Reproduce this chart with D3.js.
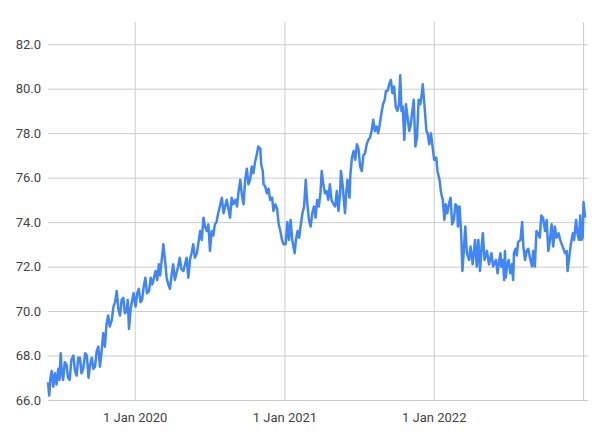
<html>
<script src="https://d3js.org/d3.v7.min.js"></script>
<style>
    body { margin: 0; background: #fff; }
    .grid line { stroke: #cccccc; stroke-width: 1px; }
    .tick text { font-family: Roboto, sans-serif; font-size: 13px; fill: #444; }
    .series { fill: none; stroke: #4285f4; stroke-width: 2.5px; stroke-linejoin: round; }
</style>
<svg width=600 height=439></svg>
<script>
    // daily-ish readings
    let dates = [
        '2019-06-03','2019-06-06','2019-06-09','2019-06-12','2019-06-16','2019-06-20','2019-06-24','2019-06-28',
        '2019-07-01','2019-07-04','2019-07-07','2019-07-10','2019-07-14','2019-07-18','2019-07-22','2019-07-26','2019-07-30',
        '2019-08-04','2019-08-08','2019-08-12','2019-08-16','2019-08-20','2019-08-24','2019-08-28',
        '2019-09-02','2019-09-06','2019-09-10','2019-09-14','2019-09-18','2019-09-22','2019-09-26','2019-09-30',
        '2019-10-04','2019-10-08','2019-10-12','2019-10-16','2019-10-20','2019-10-24','2019-10-28',
        '2019-11-01','2019-11-06','2019-11-10','2019-11-14','2019-11-18','2019-11-22','2019-11-26','2019-11-30',
        '2019-12-04','2019-12-08','2019-12-12','2019-12-15','2019-12-18','2019-12-22','2019-12-25','2019-12-29',
        '2020-01-03','2020-01-07','2020-01-11','2020-01-15','2020-01-19','2020-01-23','2020-01-27','2020-01-31',
        '2020-02-05','2020-02-09','2020-02-13','2020-02-17','2020-02-21','2020-02-25','2020-02-29',
        '2020-03-03','2020-03-07','2020-03-11','2020-03-15','2020-03-19','2020-03-23','2020-03-27','2020-03-31',
        '2020-04-04','2020-04-08','2020-04-12','2020-04-16','2020-04-20','2020-04-24','2020-04-29',
        '2020-05-03','2020-05-07','2020-05-11','2020-05-15','2020-05-19','2020-05-23','2020-05-27',
        '2020-06-01','2020-06-05','2020-06-09','2020-06-13','2020-06-17','2020-06-21','2020-06-25','2020-06-29',
        '2020-07-03','2020-07-07','2020-07-11','2020-07-15','2020-07-19','2020-07-23','2020-07-27',
        '2020-08-01','2020-08-05','2020-08-09','2020-08-13','2020-08-17','2020-08-21','2020-08-25','2020-08-29',
        '2020-09-03','2020-09-07','2020-09-11','2020-09-15','2020-09-19','2020-09-23','2020-09-27',
        '2020-10-01','2020-10-05','2020-10-09','2020-10-13','2020-10-17','2020-10-21','2020-10-25','2020-10-29',
        '2020-11-03','2020-11-05','2020-11-09','2020-11-11','2020-11-15','2020-11-19','2020-11-23','2020-11-27',
        '2020-12-02','2020-12-05','2020-12-10','2020-12-14','2020-12-18','2020-12-22','2020-12-26','2020-12-30',
        '2021-01-04','2021-01-08','2021-01-12','2021-01-16','2021-01-20','2021-01-24','2021-01-26','2021-01-29',
        '2021-02-02','2021-02-06','2021-02-10','2021-02-14','2021-02-18','2021-02-22','2021-02-26',
        '2021-03-02','2021-03-06','2021-03-10','2021-03-14','2021-03-18','2021-03-22','2021-03-26','2021-03-30',
        '2021-04-02','2021-04-06','2021-04-10','2021-04-14','2021-04-18','2021-04-22','2021-04-26',
        '2021-05-01','2021-05-05','2021-05-09','2021-05-13','2021-05-17','2021-05-19','2021-05-23','2021-05-29',
        '2021-06-01','2021-06-04','2021-06-09','2021-06-11','2021-06-15','2021-06-19','2021-06-23','2021-06-27',
        '2021-07-01','2021-07-05','2021-07-09','2021-07-13','2021-07-17','2021-07-21','2021-07-25','2021-07-29',
        '2021-08-02','2021-08-06','2021-08-10','2021-08-14','2021-08-18','2021-08-22','2021-08-26','2021-08-30',
        '2021-09-03','2021-09-06','2021-09-10','2021-09-14','2021-09-18','2021-09-22','2021-09-26','2021-09-30',
        '2021-10-04','2021-10-08','2021-10-11','2021-10-14','2021-10-17','2021-10-21','2021-10-25','2021-10-29',
        '2021-11-02','2021-11-05','2021-11-09','2021-11-13','2021-11-17','2021-11-21','2021-11-25','2021-11-29',
        '2021-12-03','2021-12-05','2021-12-09','2021-12-14','2021-12-17','2021-12-21','2021-12-25','2021-12-29',
        '2022-01-02','2022-01-07','2022-01-10','2022-01-15','2022-01-19','2022-01-23','2022-01-27','2022-01-30',
        '2022-02-03','2022-02-07','2022-02-11','2022-02-15','2022-02-19','2022-02-23','2022-02-27',
        '2022-03-01','2022-03-05','2022-03-09','2022-03-12','2022-03-15','2022-03-19','2022-03-23','2022-03-28',
        '2022-04-01','2022-04-06','2022-04-12','2022-04-16','2022-04-20','2022-04-24','2022-04-28',
        '2022-05-01','2022-05-05','2022-05-11','2022-05-16','2022-05-22','2022-05-26',
        '2022-06-02','2022-06-06','2022-06-10','2022-06-13','2022-06-15','2022-06-19','2022-06-22','2022-06-24','2022-06-26','2022-06-29',
        '2022-07-03','2022-07-07','2022-07-11','2022-07-14','2022-07-16','2022-07-20','2022-07-23','2022-07-26',
        '2022-08-01','2022-08-05','2022-08-08','2022-08-12','2022-08-16','2022-08-20','2022-08-24','2022-08-29',
        '2022-09-01','2022-09-05','2022-09-09','2022-09-13','2022-09-17','2022-09-21','2022-09-25','2022-09-30',
        '2022-10-04','2022-10-08','2022-10-12','2022-10-16','2022-10-20','2022-10-24','2022-10-28',
        '2022-11-02','2022-11-06','2022-11-10','2022-11-14','2022-11-18','2022-11-22','2022-11-24','2022-11-28',
        '2022-12-02','2022-12-07','2022-12-10','2022-12-15','2022-12-18','2022-12-22','2022-12-25','2022-12-28','2022-12-31',
        '2023-01-02','2023-01-06'
    ];

    let values = [
        66.8,66.2,67.0,67.3,66.6,67.2,66.7,67.4,
        66.9,68.1,67.2,66.9,67.7,67.6,67.0,66.9,67.8,
        68.0,67.3,67.1,67.9,67.9,67.2,67.4,
        68.1,68.0,67.0,67.6,67.9,67.4,67.5,68.2,
        68.4,67.5,68.2,69.0,68.4,69.4,69.8,
        69.3,69.6,70.2,70.4,70.9,70.1,69.8,70.5,
        70.6,69.9,70.0,70.5,69.2,70.1,70.4,70.8,
        70.2,70.8,71.0,70.4,70.5,71.1,71.5,70.8,
        70.9,71.5,71.2,71.5,71.8,71.4,72.1,
        71.6,72.3,73.0,72.3,71.5,71.2,71.0,71.6,
        72.1,71.4,71.7,72.0,72.4,71.9,71.8,
        72.1,72.4,71.5,72.3,72.6,73.0,72.4,
        72.6,73.1,73.6,73.2,74.2,73.8,73.6,73.9,
        72.7,73.6,73.4,73.9,74.0,74.4,74.7,
        75.1,74.4,74.7,75.0,74.6,74.2,75.1,74.8,
        75.0,74.7,75.4,75.9,75.2,74.8,75.9,
        76.4,75.7,75.9,76.5,76.2,76.7,77.0,77.4,
        77.3,76.6,76.3,75.7,75.6,75.3,75.5,75.0,
        75.1,74.5,74.8,74.6,73.9,73.6,73.2,73.0,
        73.0,74.0,73.2,74.1,73.2,72.8,72.6,73.2,
        73.6,73.3,73.9,74.4,74.7,75.9,74.8,
        74.1,73.8,74.4,74.7,74.2,75.0,74.7,75.3,
        76.3,75.7,75.3,75.4,75.0,75.7,75.0,
        74.8,74.7,75.4,74.5,75.3,76.3,75.7,74.4,
        75.3,75.9,75.1,76.1,76.9,77.2,76.8,77.5,
        77.3,76.5,76.3,77.0,77.1,77.5,77.7,77.8,
        78.1,78.6,78.1,78.3,78.0,78.4,78.9,79.3,
        79.5,79.9,79.9,80.2,80.4,79.8,80.1,79.2,
        79.0,79.3,80.6,79.0,79.2,77.7,79.3,78.7,
        78.1,78.3,78.9,79.5,77.4,77.8,79.5,79.3,
        79.8,80.2,79.3,78.1,78.0,77.5,78.0,77.4,
        76.8,76.9,76.3,75.9,75.3,75.0,74.1,74.8,
        74.4,74.8,75.1,73.9,74.1,74.8,74.7,
        73.8,74.7,73.5,71.8,72.6,73.8,72.6,72.3,
        72.9,72.1,73.2,72.0,73.2,71.8,72.9,
        73.5,72.3,72.7,72.1,72.6,72.0,
        72.3,71.7,72.3,72.6,72.0,72.3,71.4,72.7,71.5,72.0,
        72.3,71.7,72.1,71.4,72.6,72.8,72.5,73.1,
        73.2,74.0,72.9,72.3,72.7,72.8,72.4,72.0,
        72.7,72.0,73.6,73.5,73.3,74.3,74.2,73.6,
        74.1,72.7,73.2,73.9,72.9,73.8,73.3,
        73.5,73.2,73.0,72.8,72.6,72.7,71.8,72.4,
        73.0,73.5,73.2,74.1,73.5,73.2,74.3,73.2,73.3,
        74.9,74.2
    ];

    let yTicks = [66, 68, 70, 72, 74, 76, 78, 80, 82];
    let xTicks = ['2020-01-01', '2021-01-01', '2022-01-01', '2023-01-01'];
    let xLabeled = ['2020-01-01', '2021-01-01', '2022-01-01'];
    let xDomain = ['2019-06-03', '2023-01-13'];

    let parse = d3.timeParse('%Y-%m-%d');
    let data = dates.map((d, i) => [parse(d), values[i]]);

    let svg = d3.select('svg'),
        margin = { top: 22, right: 12, bottom: 39, left: 48 },
        width = +svg.attr('width') - margin.left - margin.right,
        height = +svg.attr('height') - margin.top - margin.bottom,
        svgg = svg.append('g')
            .attr('transform', 'translate(' + margin.left + ',' + margin.top + ')');

    let x = d3.scaleTime().domain(xDomain.map(parse)).range([0, width]);
    let y = d3.scaleLinear().domain([66, 83]).range([height, 0]);

    // horizontal grid + y labels
    let yAxis = svgg.append('g')
        .attr('class', 'grid')
        .call(d3.axisLeft(y)
            .tickValues(yTicks)
            .tickSize(-width)
            .tickPadding(7)
            .tickFormat(d3.format('.1f')));
    yAxis.select('.domain').remove();

    // vertical grid
    let xGrid = svgg.append('g')
        .attr('class', 'grid')
        .attr('transform', 'translate(0,' + height + ')')
        .call(d3.axisBottom(x)
            .tickValues(xTicks.map(parse))
            .tickSize(-height)
            .tickPadding(10)
            .tickFormat(d => xLabeled.includes(d3.timeFormat('%Y-%m-%d')(d)) ? d3.timeFormat('%-d %b %Y')(d) : ''));
    xGrid.select('.domain').remove();
    xGrid.selectAll('.tick text').attr('dy', '0.9em');

    let lineGen = d3.line()
        .x(d => x(d[0]))
        .y(d => y(d[1]));

    svgg.append('path')
        .attr('class', 'series')
        .attr('d', lineGen(data));
</script>
</html>
